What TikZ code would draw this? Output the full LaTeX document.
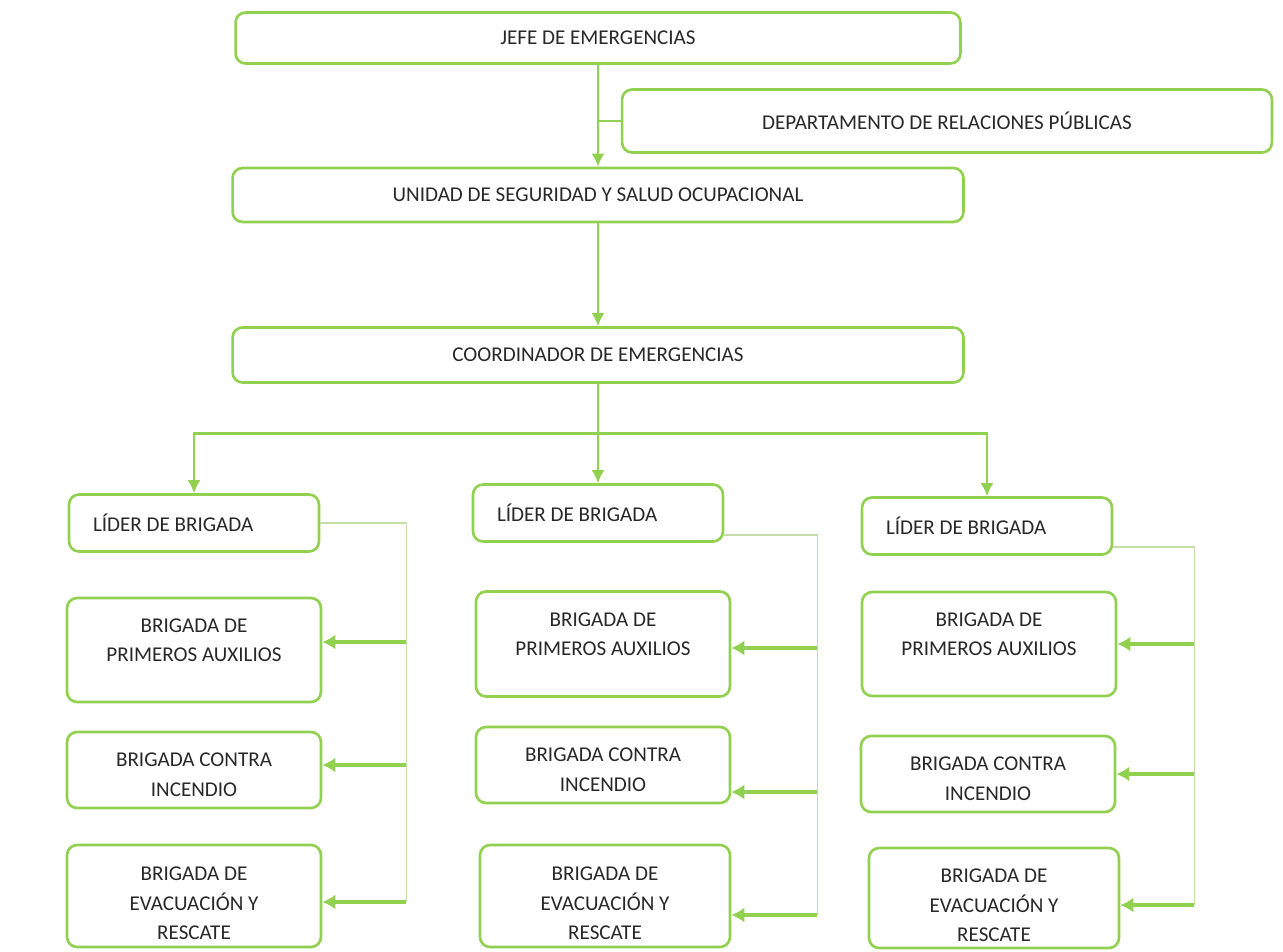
\documentclass[tikz,border=0pt]{standalone}
\usepackage{fontspec}
\setmainfont{Carlito}
\usepackage{tikz}
\usetikzlibrary{arrows.meta,positioning,calc}
\definecolor{boxgreen}{RGB}{146,208,80}
\definecolor{busgreen}{RGB}{196,222,170}
\definecolor{inkgray}{RGB}{40,40,40}

\begin{document}
\begin{tikzpicture}[
      x = 0.02cm,y = -0.02cm,
      every node/.style = {text = inkgray,font = \fontsize{12}{16.8}\selectfont},
      unit/.style = {draw = boxgreen,line width = 1.5pt,rectangle,rounded corners = 2mm,inner sep = 0},
      leader/.style = {unit,minimum width = 5cm,minimum height = 1.14cm,text width = 4.04cm,align = flush left},
      brigade/.style = {unit,minimum width = 5.08cm,align = center},
      raised/.style = {text depth = 11.3pt},
      lowered/.style = {text height = #1},
      link/.style = {draw = boxgreen,line width = 1.3pt},
      arrow/.style = {link,-{Latex[length = 2.6mm,width = 2.6mm]}},
      feed/.style = {draw = boxgreen,line width = 2pt,-{Latex[length = 2.6mm,width = 3mm]}},
      bus/.style = {draw = busgreen,line width = 0.7pt}
      ]
      \useasboundingbox (0,0) rectangle (1283,951);

      \node (jefe)[unit,minimum width = 14.5cm,minimum height = 1.02cm] at (598,38) {JEFE DE EMERGENCIAS};
      \node (dept)[unit,minimum width = 13cm,minimum height = 1.26cm] at (947,121) {DEPARTAMENTO DE RELACIONES PÚBLICAS};
      \node (usso)[unit,minimum width = 14.62cm,minimum height = 1.08cm] at (598,195) {UNIDAD DE SEGURIDAD Y SALUD OCUPACIONAL};
      \node (coord)[unit,minimum width = 14.62cm,minimum height = 1.1cm] at (598,355) {COORDINADOR DE EMERGENCIAS};

      \node (liderA)[leader] at (194,523) {LÍDER DE BRIGADA};
      \node (liderB)[leader] at (598,513) {LÍDER DE BRIGADA};
      \node (liderC)[leader] at (987,526) {LÍDER DE BRIGADA};

      \node (primA)[brigade,raised,minimum height = 2.08cm] at (194,650) {BRIGADA DE\\PRIMEROS AUXILIOS};
      \node (contraA)[brigade,lowered = 30pt,minimum height = 1.52cm] at (194,770) {BRIGADA CONTRA\\INCENDIO};
      \node (evacA)[brigade,lowered = 50pt,minimum height = 2.04cm] at (194,896) {BRIGADA DE\\EVACUACIÓN Y\\RESCATE};

      \node (primB)[brigade,raised,minimum height = 2.1cm] at (603,644) {BRIGADA DE\\PRIMEROS AUXILIOS};
      \node (contraB)[brigade,lowered = 30pt,minimum height = 1.52cm] at (603,765) {BRIGADA CONTRA\\INCENDIO};
      \node (evacB)[brigade,lowered = 50pt,minimum width = 5cm,minimum height = 2.04cm] at (605,896) {BRIGADA DE\\EVACUACIÓN Y\\RESCATE};

      \node (primC)[brigade,raised,minimum height = 2.08cm] at (989,644) {BRIGADA DE\\PRIMEROS AUXILIOS};
      \node (contraC)[brigade,lowered = 30pt,minimum height = 1.52cm] at (988,774) {BRIGADA CONTRA\\INCENDIO};
      \node (evacC)[brigade,lowered = 50pt,minimum width = 5cm,minimum height = 2cm] at (994,898) {BRIGADA DE\\EVACUACIÓN Y\\RESCATE};

      \path (jefe.south) edge[arrow] (usso.north);
      \draw [link] (jefe.south |- dept.west) -- (dept.west);
      \path (usso.south) edge[arrow] (coord.north);

      \coordinate (split) at ($(coord.south)!0.5!(liderB.north)$);
      \draw [link] (coord.south) -- (split);
      \draw [arrow] (split) -- (liderB.north);
      \draw [arrow] (split) -| (liderA.north);
      \draw [arrow] (split) -| (liderC.north);

      \coordinate[right = 1.72cm of liderA.east] (busA);
      \draw [bus] (liderA.east) -- (busA) -- ($(busA |- evacA.east)+(0,6)$);
      \draw [feed] ($(busA |- primA.east)+(0,-8)$) -- ($(primA.east)+(0,-8)$);
      \draw [feed] ($(busA |- contraA.east)+(0,-5)$) -- ($(contraA.east)+(0,-5)$);
      \draw [feed] ($(busA |- evacA.east)+(0,6)$) -- ($(evacA.east)+(0,6)$);

      \draw [bus] ([yshift = -4.4mm]liderB.east) -- ++(93,0) coordinate (busB) -- ($(busB |- evacB.east)+(0,19)$);
      \draw [feed] ($(busB |- primB.east)+(0,4)$) -- ($(primB.east)+(0,4)$);
      \draw [feed] ($(busB |- contraB.east)+(0,27)$) -- ($(contraB.east)+(0,27)$);
      \draw [feed] ($(busB |- evacB.east)+(0,19)$) -- ($(evacB.east)+(0,19)$);

      \draw [bus] ([yshift = -4.2mm]liderC.east) -- ++(81,0) coordinate (busC) -- ($(busC |- evacC.east)+(0,7)$);
      \draw [feed] (busC |- primC.east) -- (primC.east);
      \draw [feed] (busC |- contraC.east) -- (contraC.east);
      \draw [feed] ($(busC |- evacC.east)+(0,7)$) -- ($(evacC.east)+(0,7)$);
    \end{tikzpicture}
\end{document}
